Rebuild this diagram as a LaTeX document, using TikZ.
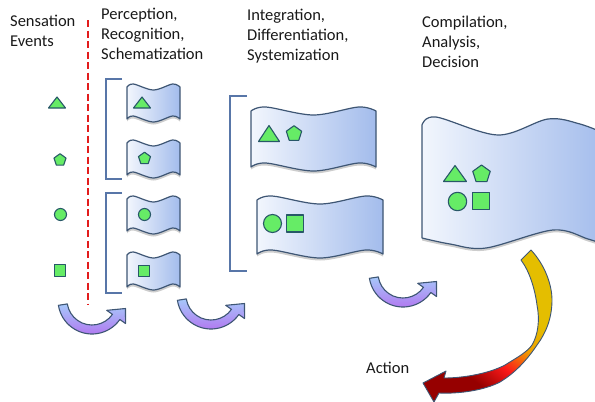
\documentclass[tikz,border=0pt]{standalone}
\usepackage{fontspec}
\setmainfont{Carlito}
\usetikzlibrary{shadows}
\definecolor{flagL}{RGB}{242,246,253}
\definecolor{flagR}{RGB}{163,188,236}
\definecolor{flagB}{RGB}{62,86,116}
\definecolor{gfill}{RGB}{102,236,102}
\definecolor{gline}{RGB}{40,88,104}
\definecolor{brk}{RGB}{88,118,168}
\definecolor{dashred}{RGB}{226,28,28}
\definecolor{ublue}{RGB}{166,200,250}
\definecolor{upurple}{RGB}{178,116,240}
\definecolor{agold}{RGB}{228,190,0}
\definecolor{aorange}{RGB}{240,160,0}
\definecolor{ared}{RGB}{250,25,25}
\definecolor{adred}{RGB}{150,0,0}
\pgfdeclareverticalshading{actshade}{100bp}{color(0bp)=(adred); color(32bp)=(adred); color(42bp)=(ared); color(52bp)=(aorange); color(62bp)=(agold); color(100bp)=(agold)}
\tikzset{
  flagbox/.style={draw=flagB, line width=1.2pt, line join=round, left color=flagL, right color=flagR,
    drop shadow={shadow xshift=0pt, shadow yshift=-2.5pt, opacity=0.28, fill=black!70}},
  gshape/.style={draw=gline, fill=gfill, line width=1.1pt, line join=round},
  bracketline/.style={draw=brk, line width=1.3pt},
  uarrowshape/.style={draw=flagB, line width=1.1pt, line join=round, top color=ublue, bottom color=upurple},
  actarrow/.style={draw=flagB, line width=0.9pt, line join=round, shading=actshade, shading angle=-38},
  dashline/.style={draw=dashred, line width=2pt, dash pattern=on 7pt off 3.5pt},
  lbl/.style={font=\fontsize{16.5}{20}\selectfont, align=left, inner sep=0pt, anchor=base west, text=black!90}
}
% wavy flag: x0, ytop (image), width, height, amplitude
\newcommand\wflag[5]{%
  \path[flagbox] plot[smooth,tension=0.55] coordinates {(#1,-#2) ({#1+0.12*#3},{-#2+#5}) ({#1+0.5*#3},{-#2-#5}) ({#1+0.86*#3},{-#2+#5}) ({#1+#3},{-#2})}
   -- plot[smooth,tension=0.55] coordinates {({#1+#3},{-#2-#4}) ({#1+0.86*#3},{-#2-#4+#5}) ({#1+0.5*#3},{-#2-#4-#5}) ({#1+0.12*#3},{-#2-#4+#5}) (#1,{-#2-#4})} -- cycle;}
\newcommand\gtri[4]{\draw[gshape] ({#1-#3/2},{-#2-#4/2}) -- ({#1+#3/2},{-#2-#4/2}) -- (#1,{-#2+#4/2}) -- cycle;}
\newcommand\gpent[3]{\draw[gshape] plot[samples at={90,162,234,306}, variable=\a] ({#1+#3*cos(\a)},{-#2+#3*sin(\a)}) -- ({#1+#3*cos(18)},{-#2+#3*sin(18)}) -- cycle;}
\newcommand\gcirc[3]{\draw[gshape] (#1,-#2) circle[radius=#3];}
\newcommand\gsq[3]{\draw[gshape] ({#1-#3/2},{-#2-#3/2}) rectangle ++(#3,#3);}
\newcommand\uarr[2]{\begin{scope}[shift={(#1,-#2)}]
  \path[uarrowshape] (189:34) arc[start angle=189, end angle=325, radius=34] -- (325:41) -- (33.5,-8.5) -- (325:18) -- (325:25) arc[start angle=325, end angle=189, radius=25] -- cycle;
\end{scope}}
\begin{document}
\begin{tikzpicture}[x=1pt,y=1pt]
\useasboundingbox (0,0) rectangle (595,-402);
\clip (0,0) rectangle (595,-402);
% texts (anchored at the baseline of the last line)
\node[lbl] (sens) at (10,-46) {Sensation\\Events};
\node[lbl] (perc) at (101,-59) {Perception,\\Recognition,\\Schematization};
\node[lbl] (integ) at (247,-60) {Integration,\\Differentiation,\\Systemization};
\node[lbl] (comp) at (422,-67) {Compilation,\\Analysis,\\Decision};
\node[lbl] (act) at (366,-373) {Action};
% dashed divider
\coordinate (dtop) at (88,-20);
\coordinate (dbot) at (88,-304);
\draw[dashline] (dtop) -- (dbot);
% sensation events
\gtri{57}{102.5}{17}{11}
\gpent{60}{160}{6.3}
\gcirc{60.5}{214.5}{6}
\gsq{60}{270.5}{11.5}
% brackets
\draw[bracketline] (122,-79) -- (106,-79) -- (106,-179) -- (122,-179);
\draw[bracketline] (122,-193) -- (106,-193) -- (106,-293) -- (122,-293);
\draw[bracketline] (247,-96) -- (230,-96) -- (230,-271) -- (247,-271);
% small flags
\wflag{127}{87}{53}{32}{3}
\wflag{127}{143}{53}{32}{3}
\wflag{127}{199}{53}{32}{3}
\wflag{127}{255}{53}{32}{3}
\gtri{142}{102.5}{17}{11}
\gpent{144.5}{158.5}{6.3}
\gcirc{144.5}{214.5}{6}
\gsq{144}{271}{11.5}
% medium flags
\wflag{251}{111}{125}{56}{4}
\wflag{257}{200}{126}{54}{4}
\gtri{269}{133.5}{21}{16}
\gpent{294}{133.8}{8.1}
\gcirc{272.5}{223.5}{9}
\gsq{295}{223.5}{17}
% big flag
\path[flagbox] plot[smooth,tension=0.55] coordinates {(422,-125) (436,-117) (498,-135) (548,-119) (580,-124) (606,-134)}
  -- plot[smooth,tension=0.55] coordinates {(606,-245) (588,-239) (553,-230) (486,-248) (450,-244) (422,-238)} -- cycle;
\gtri{455}{173.5}{23}{16}
\gpent{481.5}{174.2}{9.2}
\gcirc{457.5}{201.5}{9.2}
\gsq{481}{201}{17.5}
% U arrows
\uarr{92}{300}
\uarr{211}{295}
\uarr{403}{273}
% action arrow
\path[actarrow] (531,-250) .. controls (545,-265) and (552,-285) .. (552,-300)
  .. controls (552,-318) and (546,-333) .. (537,-345)
  .. controls (527,-360) and (515,-373) .. (500,-382)
  .. controls (485,-390) and (460,-394) .. (439,-393)
  -- (434,-402) -- (423,-383) -- (446,-371) -- (444,-378)
  .. controls (465,-378) and (490,-373) .. (505,-365)
  .. controls (518,-357) and (527,-352) .. (532,-345)
  .. controls (538,-335) and (540,-320) .. (537,-305)
  .. controls (535,-290) and (530,-272) .. (521,-260) -- cycle;
\end{tikzpicture}
\end{document}
